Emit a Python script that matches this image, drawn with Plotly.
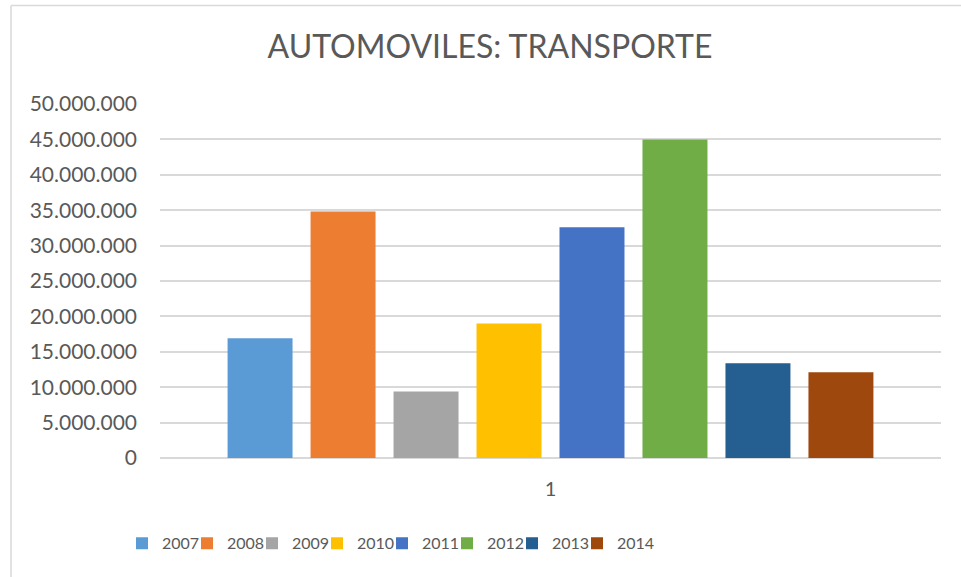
import plotly.graph_objects as go

categories = ["1"]
years = ["2007", "2008", "2009", "2010", "2011", "2012", "2013", "2014"]
values = [16900000, 34800000, 9400000, 19000000, 32600000, 45000000, 13400000, 12100000]
colors = ["#5B9BD5", "#ED7D31", "#A5A5A5", "#FFC000", "#4472C4", "#70AD47", "#255E91", "#9E480E"]
tick_vals = [0, 5000000, 10000000, 15000000, 20000000, 25000000, 30000000, 35000000, 40000000, 45000000, 50000000]
tick_text = ["0", "5.000.000", "10.000.000", "15.000.000", "20.000.000", "25.000.000",
             "30.000.000", "35.000.000", "40.000.000", "45.000.000", "50.000.000"]

FONT = "Lato"
GRAY = "#595959"

W, H = 961, 577
L, R, T, B = 160, 20, 103.5, 119.3
ph = H - T - B
pw = W - L - R

def px2x(px):
    return (px - L) / pw

def py2y(py):
    return (H - B - py) / ph

fig = go.Figure()
legends = {}
for i, (y, v, c) in enumerate(zip(years, values, colors)):
    lname = "legend" if i == 0 else f"legend{i + 1}"
    fig.add_trace(go.Bar(x=categories, y=[v], name=y, legend=lname, showlegend=True,
                         marker=dict(color=c, line=dict(width=0))))
    legends[lname] = dict(orientation="h", x=px2x(122 + 65 * i), xanchor="left",
                          y=py2y(543), yanchor="middle", visible=True,
                          font=dict(size=16, color=GRAY), itemwidth=30,
                          bgcolor="rgba(0,0,0,0)")

fig.update_layout(
    width=W, height=H, showlegend=True,
    margin=dict(l=L, r=R, t=T, b=B, pad=0),
    paper_bgcolor="white", plot_bgcolor="white",
    barmode="group", bargap=0.15, bargroupgap=0.217,
    font=dict(family=FONT, color=GRAY, size=20),
    title=dict(text="AUTOMOVILES: TRANSPORTE", font=dict(family=FONT, size=32, color=GRAY),
               x=px2x(490), xref="paper", xanchor="center", y=1 - 47 / H, yanchor="middle"),
    xaxis=dict(showgrid=False, showline=False, zeroline=False, ticks="",
               tickfont=dict(size=20, color=GRAY), ticklabelstandoff=17),
    yaxis=dict(range=[0, 50000000], tickvals=tick_vals, ticktext=tick_text,
               showgrid=True, gridcolor="#D9D9D9", gridwidth=1.6, zeroline=True,
               zerolinecolor="#D9D9D9", zerolinewidth=1.6, showline=False, ticks="",
               tickfont=dict(size=21, color=GRAY), ticklabelstandoff=22),
    shapes=[
        dict(type="line", xref="paper", yref="paper", x0=px2x(11), x1=px2x(1000), y0=py2y(5), y1=py2y(5),
             line=dict(color="#D9D9D9", width=1.5)),
        dict(type="line", xref="paper", yref="paper", x0=px2x(11), x1=px2x(11), y0=py2y(5), y1=py2y(620),
             line=dict(color="#D9D9D9", width=1.5)),
    ],
    **legends,
)

fig.write_html("out.html", config={"displayModeBar": False},
               post_script="document.body.style.margin='0';document.body.style.overflow='hidden';")
